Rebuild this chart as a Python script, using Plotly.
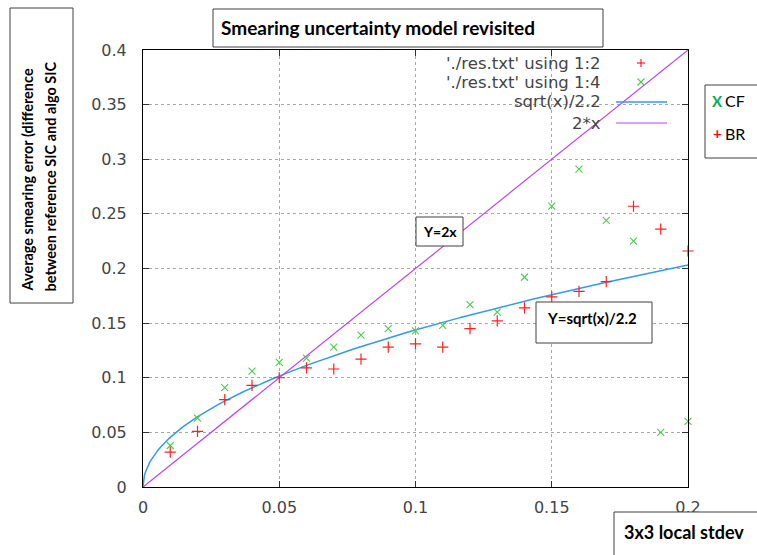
import numpy as np
import plotly.graph_objects as go

# ---- data ----
x_vals = [0.01, 0.02, 0.03, 0.04, 0.05, 0.06, 0.07, 0.08, 0.09, 0.10,
          0.11, 0.12, 0.13, 0.14, 0.15, 0.16, 0.17, 0.18, 0.19, 0.20]
br_vals = [0.032, 0.051, 0.080, 0.093, 0.100, 0.109, 0.108, 0.117, 0.128, 0.131,
           0.128, 0.145, 0.152, 0.164, 0.174, 0.179, 0.188, 0.257, 0.236, 0.216]
cf_vals = [0.038, 0.063, 0.091, 0.106, 0.114, 0.118, 0.128, 0.139, 0.145, 0.143,
           0.148, 0.167, 0.160, 0.192, 0.257, 0.291, 0.244, 0.225, 0.050, 0.060]
x_ticks = [0, 0.05, 0.1, 0.15, 0.2]
x_tick_labels = ["0", "0.05", "0.1", "0.15", "0.2"]
y_ticks = [0, 0.05, 0.1, 0.15, 0.2, 0.25, 0.3, 0.35, 0.4]
y_tick_labels = ["0", "0.05", "0.1", "0.15", "0.2", "0.25", "0.3", "0.35", "0.4"]

# the two plotted functions named in the key
x_curve = np.linspace(0, 0.2, 401)
sqrt_curve = np.sqrt(x_curve) / 2.2
lin_curve = 2 * x_curve

RED = "#ff2020"
GREEN = "#4ccc4c"
BLUE = "#3399ee"
PURPLE = "#bb44ee"

# plot-area geometry (pixels) used for placing decorations
W_IMG, H_IMG = 757, 555
L, R, T, B = 143, 688, 50, 487
PW, PH = R - L, B - T


def px(x):
    return (x - L) / PW


def py(y):
    return (B - y) / PH


fig = go.Figure()
fig.add_trace(go.Scatter(x=x_curve, y=sqrt_curve, mode="lines",
                         line=dict(color=BLUE, width=1.5), showlegend=False,
                         hoverinfo="skip"))
fig.add_trace(go.Scatter(x=x_curve, y=lin_curve, mode="lines",
                         line=dict(color=PURPLE, width=1.2), showlegend=False,
                         hoverinfo="skip"))
fig.add_trace(go.Scatter(x=x_vals, y=br_vals, mode="markers", showlegend=False,
                         cliponaxis=False,
                         marker=dict(symbol="cross-thin", size=8,
                                     line=dict(color=RED, width=1.2))))
fig.add_trace(go.Scatter(x=x_vals, y=cf_vals, mode="markers", showlegend=False,
                         cliponaxis=False,
                         marker=dict(symbol="x-thin", size=7,
                                     line=dict(color=GREEN, width=1.1))))

shapes = []
annotations = []

# opaque key background (covers grid)
shapes.append(dict(type="rect", xref="paper", yref="paper", layer="between",
                   x0=px(363), x1=1, y0=py(133), y1=1,
                   fillcolor="white", line=dict(width=0)))

# key text (gnuplot style, right aligned)
key_font = dict(family="DejaVu Sans", size=16.5, color="#444444")
key_rows = [("'./res.txt' using 1:2", 63), ("'./res.txt' using 1:4", 82),
            ("sqrt(x)/2.2", 102), ("2*x", 123)]
for txt, yy in key_rows:
    annotations.append(dict(text=txt, xref="paper", yref="paper", x=px(603), y=py(yy),
                            xanchor="right", yanchor="middle", showarrow=False,
                            font=key_font))
# key samples
shapes.append(dict(type="line", xref="paper", yref="paper", layer="above",
                   x0=px(637), x1=px(645), y0=py(63), y1=py(63), line=dict(color=RED, width=1.2)))
shapes.append(dict(type="line", xref="paper", yref="paper", layer="above",
                   x0=px(641), x1=px(641), y0=py(59), y1=py(67), line=dict(color=RED, width=1.2)))
shapes.append(dict(type="line", xref="paper", yref="paper", layer="above",
                   x0=px(637.5), x1=px(644.5), y0=py(78.5), y1=py(85.5), line=dict(color=GREEN, width=1.1)))
shapes.append(dict(type="line", xref="paper", yref="paper", layer="above",
                   x0=px(637.5), x1=px(644.5), y0=py(85.5), y1=py(78.5), line=dict(color=GREEN, width=1.1)))
shapes.append(dict(type="line", xref="paper", yref="paper", layer="above",
                   x0=px(616), x1=px(667), y0=py(102), y1=py(102), line=dict(color=BLUE, width=1.5)))
shapes.append(dict(type="line", xref="paper", yref="paper", layer="above",
                   x0=px(616), x1=px(667), y0=py(123), y1=py(123), line=dict(color=PURPLE, width=1.2)))

BOX_LINE = dict(color="#404040", width=1)


def box(x0, y0, x1, y1):
    shapes.append(dict(type="rect", xref="paper", yref="paper", layer="above",
                       x0=px(x0), x1=px(x1), y0=py(y1), y1=py(y0),
                       fillcolor="white", line=BOX_LINE))


bold_font = dict(family="Lato", color="black")

# title box
box(213, 9, 603, 47)
annotations.append(dict(text="<b>Smearing uncertainty model revisited</b>", xref="paper", yref="paper",
                        x=px(219), y=py(28), xanchor="left", yanchor="middle", showarrow=False,
                        font=dict(bold_font, size=19)))
# y-axis title box
box(10, 8, 73, 303)
annotations.append(dict(text="<b>Average smearing error (difference</b>",
                        xref="paper", yref="paper", x=px(27), y=py(294), textangle=-90,
                        xanchor="center", yanchor="bottom", showarrow=False,
                        font=dict(bold_font, size=14.5)))
annotations.append(dict(text="<b>between reference SIC and algo SIC</b>",
                        xref="paper", yref="paper", x=px(49.5), y=py(294), textangle=-90,
                        xanchor="center", yanchor="bottom", showarrow=False,
                        font=dict(bold_font, size=14.5)))
# x-axis title box
box(614, 512, 760, 560)
annotations.append(dict(text="<b>3x3 local stdev</b>", xref="paper", yref="paper",
                        x=px(622), y=py(532), xanchor="left", yanchor="middle", showarrow=False,
                        font=dict(bold_font, size=18)))
# Y=2x box
box(416, 217, 463, 246)
annotations.append(dict(text="<b>Y=2x</b>", xref="paper", yref="paper",
                        x=px(439.5), y=py(231), xanchor="center", yanchor="middle", showarrow=False,
                        font=dict(bold_font, size=14)))
# Y=sqrt(x)/2.2 box
box(536, 302, 652, 343)
annotations.append(dict(text="<b>Y=sqrt(x)/2.2</b>", xref="paper", yref="paper",
                        x=px(545), y=py(318), xanchor="left", yanchor="middle", showarrow=False,
                        font=dict(bold_font, size=15)))
# CF / BR box
box(705, 85, 760, 158)
annotations.append(dict(text="<b>X</b>", xref="paper", yref="paper",
                        x=px(717), y=py(101), xanchor="center", yanchor="middle", showarrow=False,
                        font=dict(family="Lato", size=15, color="#00b050")))
annotations.append(dict(text="CF", xref="paper", yref="paper",
                        x=px(723), y=py(101), xanchor="left", yanchor="middle", showarrow=False,
                        font=dict(family="Lato", size=16, color="black")))
annotations.append(dict(text="<b>+</b>", xref="paper", yref="paper",
                        x=px(717), y=py(133), xanchor="center", yanchor="middle", showarrow=False,
                        font=dict(family="Lato", size=15, color="red")))
annotations.append(dict(text="BR", xref="paper", yref="paper",
                        x=px(723), y=py(133), xanchor="left", yanchor="middle", showarrow=False,
                        font=dict(family="Lato", size=16, color="black")))

axis_common = dict(showline=True, linecolor="black", linewidth=1, mirror="allticks",
                   ticks="inside", ticklen=6, tickcolor="#333333",
                   showgrid=True, gridcolor="#a8a8a8", griddash="dot", gridwidth=1,
                   zeroline=False,
                   tickfont=dict(family="DejaVu Sans", size=16, color="#444444"))

fig.update_layout(
    width=W_IMG, height=H_IMG,
    margin=dict(l=L, r=W_IMG - R, t=T, b=H_IMG - B, pad=0),
    paper_bgcolor="white", plot_bgcolor="white",
    showlegend=False,
    xaxis=dict(axis_common, range=[0, 0.2], tickvals=x_ticks, ticktext=x_tick_labels,
               ticklabelstandoff=6),
    yaxis=dict(axis_common, range=[0, 0.4], tickvals=y_ticks, ticktext=y_tick_labels,
               ticklabelstandoff=12),
    shapes=shapes,
    annotations=annotations,
)

fig.write_html("out.html", config={"displayModeBar": False},
               post_script="document.body.style.margin='0';document.body.style.overflow='hidden';")
